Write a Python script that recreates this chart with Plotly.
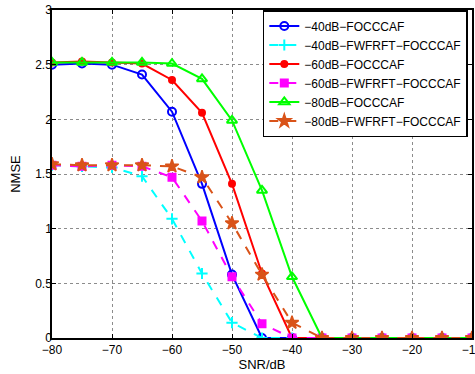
import plotly.graph_objects as go

snr = [-80, -75, -70, -65, -60, -55, -50, -45, -40, -35, -30, -25, -20, -15, -10]

s40_foc = [2.50, 2.51, 2.50, 2.41, 2.07, 1.41, 0.58, 0, 0, 0, 0, 0, 0, 0, 0]
s40_fw = [1.58, 1.57, 1.56, 1.48, 1.09, 0.59, 0.14, 0, 0, 0, 0, 0, 0, 0, 0]
s60_foc = [2.52, 2.53, 2.52, 2.51, 2.36, 2.06, 1.41, 0.59, 0, 0, 0, 0, 0, 0, 0]
s60_fw = [1.58, 1.57, 1.58, 1.57, 1.47, 1.07, 0.56, 0.13, 0, 0, 0, 0, 0, 0, 0]
s80_foc = [2.52, 2.52, 2.52, 2.52, 2.51, 2.37, 1.99, 1.35, 0.56, 0, 0, 0, 0, 0, 0]
s80_fw = [1.59, 1.58, 1.58, 1.58, 1.57, 1.47, 1.05, 0.58, 0.14, 0, 0, 0, 0, 0, 0]

names = ["−40dB−FOCCCAF", "−40dB−FWFRFT−FOCCCAF", "−60dB−FOCCCAF",
         "−60dB−FWFRFT−FOCCCAF", "−80dB−FOCCCAF", "−80dB−FWFRFT−FOCCCAF"]
series = [s40_foc, s40_fw, s60_foc, s60_fw, s80_foc, s80_fw]
colors = ["#0000FF", "#00FFFF", "#FF0000", "#FF00FF", "#00FF00", "#D95319"]
dashes = ["solid", "dash", "solid", "dash", "solid", "dash"]
symbols = ["circle-open", "cross-thin-open", "circle", "square", "triangle-up-open", "star"]
msizes = [8, 8, 6, 7, 9, 10]

fig = go.Figure()
for n, y, c, d, s, ms in zip(names, series, colors, dashes, symbols, msizes):
    fig.add_trace(go.Scatter(
        x=snr, y=y, name=n, mode="lines+markers",
        line=dict(color=c, width=2, dash=d),
        marker=dict(symbol=s, size=ms, color=c, line=dict(color=c, width=1.5 if s == "star" else 2)),
    ))

axis_common = dict(
    showline=True, linecolor="black", linewidth=1.5, mirror="ticks",
    ticks="inside", ticklen=4, tickcolor="black",
    showgrid=True, gridcolor="#8c8c8c", griddash="dot", gridwidth=1,
    zeroline=False, automargin=False, ticklabeloverflow="allow",
    tickfont=dict(family="Liberation Sans, Arial", size=12, color="black"),
)

fig.update_layout(
    width=475, height=374,
    margin=dict(l=52, r=3, t=10, b=36),
    paper_bgcolor="white", plot_bgcolor="white",
    font=dict(family="Liberation Sans, Arial", size=12, color="black"),
    xaxis=dict(range=[-80, -10], tickvals=[-80, -70, -60, -50, -40, -30, -20, -10],
               title=dict(text="SNR/dB", standoff=0, font=dict(size=13)), **axis_common),
    yaxis=dict(range=[0, 3], tickvals=[0, 0.5, 1, 1.5, 2, 2.5, 3],
               ticktext=["0", "0.5", "1", "1.5", "2", "2.5", "3"],
               ticklabelstandoff=-4,
               title=dict(text="NMSE", standoff=12, font=dict(size=13)), **axis_common),
    legend=dict(x=0.99, y=1.0, xanchor="right", yanchor="top",
                bgcolor="white", bordercolor="black", borderwidth=1.5,
                font=dict(size=12), tracegroupgap=0, itemwidth=30),
    showlegend=True,
)

fig.write_html("out.html", config={"displayModeBar": False},
               post_script="document.body.style.margin='0';")
